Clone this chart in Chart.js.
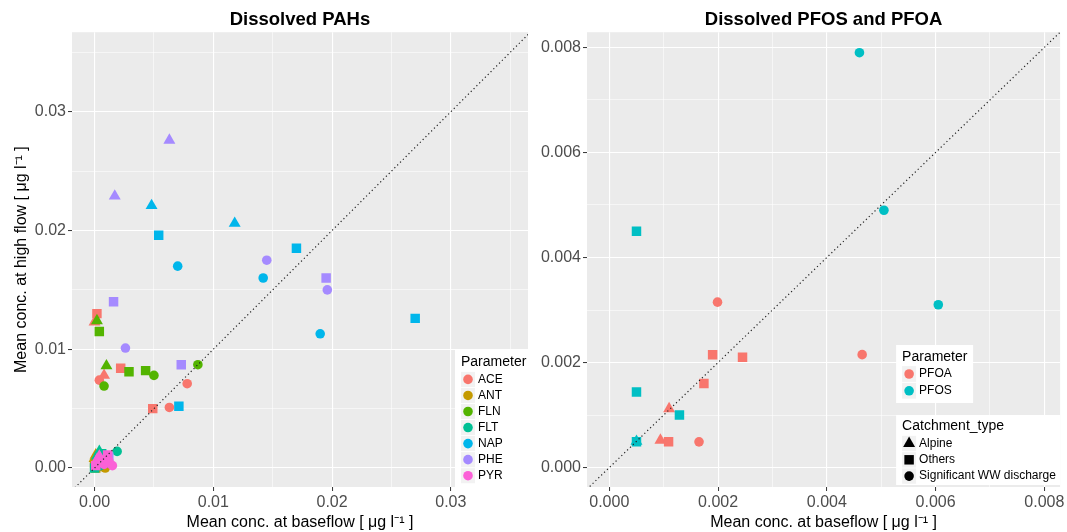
<!DOCTYPE html>
<html><head>
<meta charset="utf-8">
<title>Dissolved PAHs / PFOS and PFOA: baseflow vs high flow</title>
<script src="https://cdn.jsdelivr.net/npm/chart.js@4"></script>
<style>
body { margin: 0; background: #fff; width: 1067px; height: 532px; overflow: hidden; }
.panel { position: absolute; top: 0; height: 532px; }
#left { left: 0; width: 540px; }
#right { left: 540px; width: 527px; }
</style></head><body>
<div class="panel" id="left"><canvas id="pahs" width="540" height="532"></canvas></div>
<div class="panel" id="right"><canvas id="pfas" width="527" height="532"></canvas></div>
<script>
const FONT = '"Liberation Sans", Arial, sans-serif';

const CATCHMENTS = ['Alpine', 'Others', 'Significant WW discharge'];
const CATCHMENT_CODES = ['A', 'O', 'W'];

const PAH_PARAMS = ['ACE', 'ANT', 'FLN', 'FLT', 'NAP', 'PHE', 'PYR'];
const PFAS_PARAMS = ['PFOA', 'PFOS'];

// [mean conc. at baseflow, mean conc. at high flow, catchment code] in ug/l
const ACE = [
  [0.0000, 0.0123, 'A'], [0.0008, 0.0078, 'A'],
  [0.0002, 0.0130, 'O'], [0.0022, 0.0084, 'O'], [0.0049, 0.0050, 'O'],
  [0.0004, 0.0074, 'W'], [0.0078, 0.0071, 'W'], [0.0063, 0.0051, 'W'],
];
const ANT = [
  [0.0001, 0.0011, 'A'], [0.0000, 0.0008, 'A'],
  [0.0000, 0.0004, 'O'], [0.0001, 0.0000, 'O'], [0.0004, 0.0009, 'O'],
  [0.0003, 0.0005, 'W'], [0.0007, 0.0001, 'W'], [0.0009, 0.0000, 'W'],
];
const FLN = [
  [0.0002, 0.0124, 'A'], [0.0010, 0.0086, 'A'],
  [0.0004, 0.0115, 'O'], [0.0029, 0.0081, 'O'], [0.0043, 0.0082, 'O'],
  [0.0008, 0.0069, 'W'], [0.0050, 0.0078, 'W'], [0.0087, 0.0087, 'W'],
];
const FLT = [
  [0.0004, 0.0014, 'A'], [0.0002, 0.0010, 'A'],
  [0.0000, 0.0000, 'O'], [0.0006, 0.0012, 'O'], [0.0003, 0.0006, 'O'],
  [0.0005, 0.0002, 'W'], [0.0010, 0.0004, 'W'], [0.0019, 0.0014, 'W'],
];
const NAP = [
  [0.0048, 0.0221, 'A'], [0.0118, 0.0206, 'A'],
  [0.0054, 0.0196, 'O'], [0.0170, 0.0185, 'O'], [0.0270, 0.0126, 'O'], [0.0071, 0.0052, 'O'],
  [0.0070, 0.0170, 'W'], [0.0142, 0.0160, 'W'], [0.0190, 0.0113, 'W'],
];
const PHE = [
  [0.0063, 0.0276, 'A'], [0.0017, 0.0229, 'A'],
  [0.0016, 0.0140, 'O'], [0.0073, 0.0087, 'O'], [0.0195, 0.0160, 'O'], [0.0012, 0.0009, 'O'],
  [0.0026, 0.0101, 'W'], [0.0145, 0.0175, 'W'], [0.0196, 0.0150, 'W'],
];
const PYR = [
  [0.0004, 0.0010, 'A'], [0.0002, 0.0007, 'A'],
  [0.0001, 0.0002, 'O'], [0.0006, 0.0006, 'O'], [0.0011, 0.0011, 'O'],
  [0.0008, 0.0003, 'W'], [0.0012, 0.0006, 'W'], [0.0015, 0.0002, 'W'],
];
const PFOA = [
  [0.00110, 0.00112, 'A'], [0.00094, 0.00052, 'A'],
  [0.00190, 0.00215, 'O'], [0.00245, 0.00210, 'O'], [0.00174, 0.00160, 'O'], [0.00109, 0.00049, 'O'],
  [0.00199, 0.00315, 'W'], [0.00465, 0.00215, 'W'], [0.00165, 0.00049, 'W'],
];
const PFOS = [
  [0.00050, 0.00050, 'A'],
  [0.00050, 0.00450, 'O'], [0.00050, 0.00144, 'O'], [0.00129, 0.00100, 'O'], [0.00050, 0.00049, 'O'],
  [0.00460, 0.00790, 'W'], [0.00505, 0.00490, 'W'], [0.00605, 0.00310, 'W'],
];

// 1:1 reference line ends
const PAH_ONE_TO_ONE = [-0.01, 0.05];
const PFAS_ONE_TO_ONE = [-0.002, 0.01];

// axis ticks
const PAH_TICKS = [0, 0.01, 0.02, 0.03];
const PAH_MINOR = [0.005, 0.015, 0.025, 0.035];
const PFAS_TICKS = [0, 0.002, 0.004, 0.006, 0.008];
const PFAS_MINOR = [0.001, 0.003, 0.005, 0.007];

const PAH_COLORS = ['#F8766D', '#C49A00', '#53B400', '#00C094', '#00B6EB', '#A58AFF', '#FB61D7'];
const PFAS_COLORS = ['#F8766D', '#00BFC4'];
const SHAPES = { A: ['triangle', 6.9], O: ['rect', 6.7], W: ['circle', 4.8] };

const X_TITLE = 'Mean conc. at baseflow [ \u03bcg l\u207b\u00b9 ]';
const Y_TITLE = 'Mean conc. at high flow [ \u03bcg l\u207b\u00b9 ]';


function drawShape(ctx, style, radius, x, y) {
  if (Chart.helpers && Chart.helpers.drawPoint) {
    Chart.helpers.drawPoint(ctx, { pointStyle: style, radius, rotation: 0, borderWidth: 0 }, x, y);
    return;
  }
  ctx.beginPath();
  if (style === 'circle') ctx.arc(x, y, radius, 0, Math.PI * 2);
  else if (style === 'rect') { const s = radius * Math.SQRT1_2; ctx.rect(x - s, y - s, 2 * s, 2 * s); }
  else { ctx.moveTo(x, y - radius); ctx.lineTo(x + radius * 0.866, y + radius / 2); ctx.lineTo(x - radius * 0.866, y + radius / 2); ctx.closePath(); }
  ctx.fill();
}

// grey panel behind the grid
const panelBg = {
  id: 'panelBg',
  beforeDraw(chart) {
    const { ctx, chartArea: a } = chart;
    ctx.save();
    ctx.fillStyle = '#EBEBEB';
    ctx.fillRect(a.left, a.top, a.right - a.left, a.bottom - a.top);
    ctx.restore();
  }
};

// ggplot-like legend boxes inside the panel
const ggLegend = {
  id: 'ggLegend',
  afterDraw(chart, args, opts) {
    const { ctx, chartArea: a } = chart;
    ctx.save();
    for (const box of opts.boxes || []) {
      const x = a.right - box.dx, y = a.bottom - box.dy;
      ctx.fillStyle = '#FFFFFF';
      ctx.fillRect(x, y, box.w, box.h);
      ctx.fillStyle = '#000000';
      ctx.textBaseline = 'middle';
      ctx.textAlign = 'left';
      ctx.font = '14px ' + FONT;
      ctx.fillText(box.title, x + 6, y + box.titleY);
      box.items.forEach((it, i) => {
        const cy = y + box.rowY + i * box.rowH;
        ctx.fillStyle = '#F2F2F2';
        ctx.fillRect(x + 6, cy - box.rowH / 2 + 0.5, 14, box.rowH - 1);
        ctx.fillStyle = it.color;
        drawShape(ctx, it.shape[0], it.shape[1], x + 13, cy);
        ctx.fillStyle = '#000000';
        ctx.font = '12px ' + FONT;
        ctx.fillText(it.label, x + 23, cy);
      });
    }
    ctx.restore();
  }
};

function axis(o) {
  const all = o.major.concat(o.minor).sort((a, b) => a - b);
  const isMajor = v => o.major.some(m => Math.abs(m - v) < 1e-9);
  const tickOf = c => (c.tick ? c.tick.value : NaN);
  return {
    type: 'linear', min: o.min, max: o.max,
    afterBuildTicks: s => { s.ticks = all.map(v => ({ value: v })); },
    afterFit: s => { if (o.width) s.width = o.width; if (o.height) s.height = o.height; },
    grid: {
      color: '#FFFFFF',
      lineWidth: c => isMajor(tickOf(c)) ? 1.1 : 0.55,
      tickColor: c => isMajor(tickOf(c)) ? '#333333' : 'rgba(0,0,0,0)',
      tickLength: 4, tickWidth: 1, drawTicks: true,
    },
    border: { display: false },
    ticks: {
      autoSkip: false, maxRotation: 0, minRotation: 0, padding: 2,
      color: '#4D4D4D', font: { family: FONT, size: 16 },
      callback: v => isMajor(v) ? v.toFixed(o.digits) : '',
    },
    title: o.title
      ? { display: true, text: o.title, color: '#000000', font: { family: FONT, size: 16 }, padding: o.titlePadding }
      : { display: false },
  };
}

function buildDatasets(params, series, colors, line) {
  const sets = [{
    data: line.map(v => ({ x: v, y: v })),
    showLine: true, pointRadius: 0, borderColor: '#222222', borderWidth: 1.2,
    borderDash: [1.2, 2.8], order: -1000,
  }];
  params.forEach((p, i) => {
    CATCHMENT_CODES.forEach((code, j) => {
      const pts = series[i].filter(r => r[2] === code).map(r => ({ x: r[0], y: r[1] }));
      if (!pts.length) return;
      sets.push({
        label: p + ' ' + CATCHMENTS[j],
        data: pts,
        pointStyle: SHAPES[code][0], pointRadius: SHAPES[code][1],
        backgroundColor: colors[i], borderWidth: 0,
        order: -(i * 3 + j),
      });
    });
  });
  return sets;
}

function makeChart(id, cfg) {
  return new Chart(document.getElementById(id), {
    type: 'scatter',
    data: { datasets: buildDatasets(cfg.params, cfg.series, cfg.colors, cfg.line) },
    options: {
      responsive: false, animation: false, events: [],
      layout: { padding: { left: 0, right: cfg.padRight, top: 0, bottom: 0 } },
      scales: { x: cfg.x, y: cfg.y },
      plugins: {
        legend: { display: false },
        tooltip: { enabled: false },
        title: {
          display: true, text: cfg.title, fullSize: false, color: '#000000',
          font: { family: FONT, size: 18.5, weight: 'bold' },
          padding: { top: 9, bottom: 1 },
        },
        ggLegend: { boxes: cfg.legends },
      },
    },
    plugins: [panelBg, ggLegend],
  });
}

const shapeItems = CATCHMENTS.map((c, j) => ({ label: c, color: '#000000', shape: SHAPES[CATCHMENT_CODES[j]] }));

makeChart('pahs', {
  title: 'Dissolved PAHs',
  params: PAH_PARAMS, colors: PAH_COLORS,
  series: [ACE, ANT, FLN, FLT, NAP, PHE, PYR],
  line: PAH_ONE_TO_ONE, padRight: 12,
  x: axis({ min: -0.0019, max: 0.0365, major: PAH_TICKS, minor: PAH_MINOR, digits: 2, height: 45,
            title: X_TITLE, titlePadding: { top: 0, bottom: 0 } }),
  y: axis({ min: -0.0016, max: 0.0367, major: PAH_TICKS, minor: PAH_MINOR, digits: 2, width: 72,
            title: Y_TITLE, titlePadding: { top: 12.4, bottom: 0 } }),
  legends: [{
    title: 'Parameter', dx: 73, dy: 137, w: 73, h: 137, titleY: 11.7, rowY: 29.4, rowH: 16.05,
    items: PAH_PARAMS.map((p, i) => ({ label: p, color: PAH_COLORS[i], shape: SHAPES.W })),
  }],
});

makeChart('pfas', {
  title: 'Dissolved PFOS and PFOA',
  params: PFAS_PARAMS, colors: PFAS_COLORS,
  series: [PFOA, PFOS],
  line: PFAS_ONE_TO_ONE, padRight: 5,
  x: axis({ min: -0.00041, max: 0.00829, major: PFAS_TICKS, minor: PFAS_MINOR, digits: 3, height: 45,
            title: X_TITLE, titlePadding: { top: 0, bottom: 0 } }),
  y: axis({ min: -0.00037, max: 0.00829, major: PFAS_TICKS, minor: PFAS_MINOR, digits: 3, width: 47 }),
  legends: [
    { title: 'Parameter', dx: 164, dy: 142, w: 77, h: 58, titleY: 12, rowY: 29, rowH: 16.8,
      items: PFAS_PARAMS.map((p, i) => ({ label: p, color: PFAS_COLORS[i], shape: SHAPES.W })) },
    { title: 'Catchment_type', dx: 164, dy: 72, w: 164, h: 70, titleY: 11, rowY: 28.5, rowH: 16.3,
      items: shapeItems },
  ],
});
</script>
</body></html>
